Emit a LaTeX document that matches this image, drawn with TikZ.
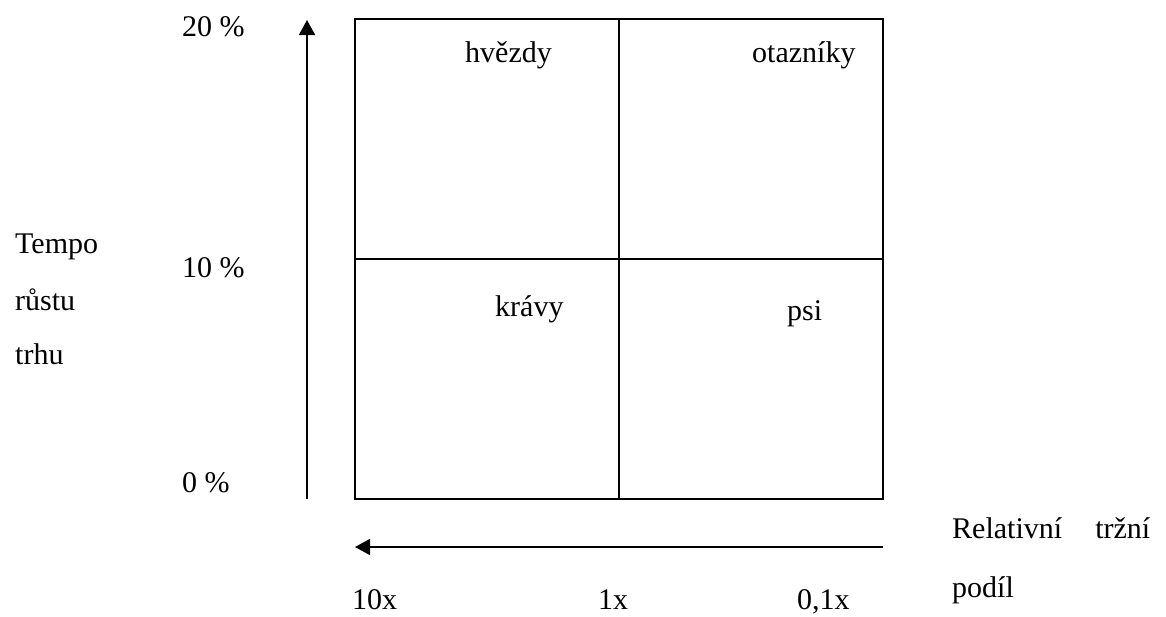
\documentclass[tikz,border=0pt]{standalone}
\usepackage{fontspec}
\setmainfont{Liberation Serif}
\usetikzlibrary{arrows.meta}
\begin{document}
\begin{tikzpicture}[x=1pt,y=-1pt,
  lbl/.style={anchor=base west,inner sep=0pt,font=\fontsize{30pt}{36pt}\selectfont},
  grid/.style={line width=1.6pt},
  axis/.style={line width=1.6pt,-{Triangle[length=15pt,width=16pt]}}]
\useasboundingbox[fill=white] (0,0) rectangle (1166,616);
% matrix corners and midpoints
\coordinate (tl) at (355,19);
\coordinate (br) at (883,499);
\coordinate (mt) at (619,19);
\coordinate (mb) at (619,499);
\coordinate (ml) at (355,259);
\coordinate (mr) at (883,259);
% axes
\coordinate (yb) at (307,499);
\coordinate (yt) at (307,20);
\coordinate (xr) at (883,547);
\coordinate (xl) at (355,547);
\draw[grid] (tl) rectangle (br);
\draw[grid] (mt) -- (mb);
\draw[grid] (ml) -- (mr);
\draw[axis] (yb) -- (yt);
\draw[axis] (xr) -- (xl);
% scale labels
\node[lbl] (p20) at (182,36) {20 \%};
\node[lbl] (p10) at (182,277) {10 \%};
\node[lbl] (p0) at (182,492) {0 \%};
\node[lbl] (s10) at (352,609) {10x};
\node[lbl] (s1) at (598,609) {1x};
\node[lbl] (s01) at (797,609) {0,1x};
% quadrant names
\node[lbl] (hv) at (465,62) {hvězdy};
\node[lbl] (ot) at (752,62) {otazníky};
\node[lbl] (kr) at (495,316) {krávy};
\node[lbl] (ps) at (787,320) {psi};
% axis titles
\node[lbl] (t1) at (15,253) {Tempo};
\node[lbl] (t2) at (15,310) {růstu};
\node[lbl] (t3) at (15,364) {trhu};
\node[lbl] (r1) at (952,538) {\makebox[198pt][l]{Relativní\hfill tržní}};
\node[lbl] (r2) at (952,597) {podíl};
\end{tikzpicture}
\end{document}
